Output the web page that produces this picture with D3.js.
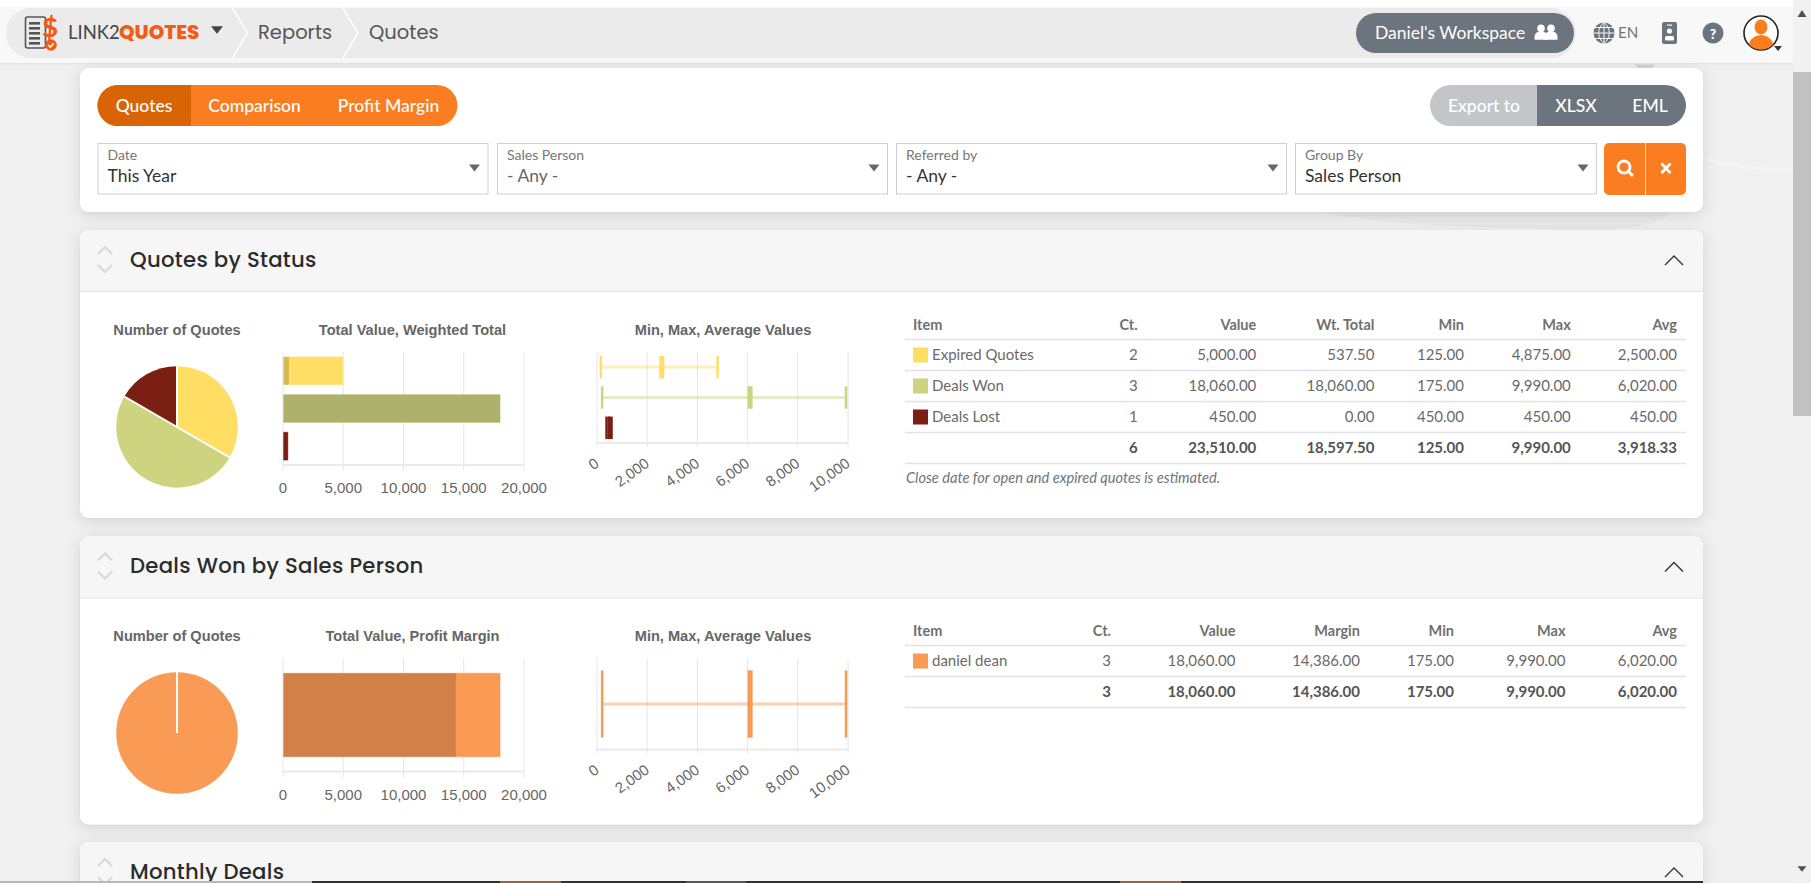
<!DOCTYPE html>
<html>
<head>
<meta charset="utf-8">
<title>Quotes report</title>
<script src="https://cdn.jsdelivr.net/npm/d3@7"></script>
<style>
  html, body { margin: 0; padding: 0; overflow: hidden; background: #f0f0f0; }
  svg { display: block; }
  text { font-family: Lato, sans-serif; dominant-baseline: central; }
  .ui { font-family: Poppins, Inter, "Open Sans", sans-serif; }
  .chart-title { font-family: "Liberation Sans", Arial, sans-serif; font-weight: 700; font-size: 14.6px; fill: #666; text-anchor: middle; }
  .axis text { font-family: "Liberation Sans", Arial, sans-serif; font-size: 15px; fill: #666; dominant-baseline: auto; }
  .axis line { stroke: #e6e6e6; }
  .axis .domain { display: none; }
</style>
</head>
<body>
<div id="chart"></div>
<script>
// report data
const statusItems = ["Expired Quotes", "Deals Won", "Deals Lost"];
const statusColors = ["#ffde63", "#ced380", "#7a1f12"];
const statusCounts = [2, 3, 1];
const statusValues = [5000, 18060, 450];
const statusWeighted = [537.5, 18060, 0];
const statusMin = [125, 175, 450];
const statusMax = [4875, 9990, 450];
const statusAvg = [2500, 6020, 450];
const statusTotals = [6, 23510, 18597.5, 125, 9990, 3918.33];

const personItems = ["daniel dean"];
const personColors = ["#f99a55"];
const personCounts = [3];
const personValues = [18060];
const personMargin = [14386];
const personMin = [175];
const personMax = [9990];
const personAvg = [6020];
const personTotals = [3, 18060, 14386, 175, 9990, 6020];

const valueTicks = [0, 5000, 10000, 15000, 20000];
const rangeTicks = [0, 2000, 4000, 6000, 8000, 10000];
const statusHeaders = ["Item", "Ct.", "Value", "Wt. Total", "Min", "Max", "Avg"];
const personHeaders = ["Item", "Ct.", "Value", "Margin", "Min", "Max", "Avg"];

const width = 1811;
const height = 883;
const money = d3.format(",.2f");
const comma = d3.format(",");

const svg = d3.select("#chart").append("svg").attr("width", width).attr("height", height);

const defs = svg.append("defs");
const shadow = defs.append("filter").attr("id", "card-shadow")
  .attr("x", "-5%").attr("y", "-10%").attr("width", "110%").attr("height", "125%");
shadow.append("feDropShadow").attr("dx", 0).attr("dy", 3).attr("stdDeviation", 7)
  .attr("flood-color", "#000").attr("flood-opacity", 0.13);

function label(parent, x, y, str, size, fill, opts = {}) {
  return parent.append("text")
    .attr("x", x).attr("y", y)
    .attr("class", opts.cls || null)
    .attr("text-anchor", opts.anchor || "start")
    .style("font-size", size + "px")
    .style("font-weight", opts.weight || 400)
    .style("font-style", opts.italic ? "italic" : "normal")
    .style("letter-spacing", opts.spacing || null)
    .attr("fill", fill)
    .text(str);
}

function triangle(parent, cx, cy, w, fill) {
  const h = w * 0.62;
  parent.append("path")
    .attr("d", `M${cx - w / 2},${cy - h / 2}H${cx + w / 2}L${cx},${cy + h / 2}Z`)
    .attr("fill", fill);
}

// faint swirl of the page background
svg.append("path")
  .attr("d", "M1703,158C1730,166 1760,170 1793,170")
  .attr("fill", "none").attr("stroke", "#f5f5f5").attr("stroke-width", 2.5);
svg.append("path")
  .attr("d", "M1320,212C1380,224 1470,229 1600,229C1640,229 1662,222 1672,212Z")
  .attr("fill", "#e9e9e9");
svg.append("path").attr("d", "M1634,64H1656L1650,70H1640Z").attr("fill", "#d4d4d4");

/* ---------- top bar ---------- */
const nav = svg.append("g");
nav.append("rect").attr("width", width).attr("height", 64).attr("fill", "#f8f8f8");
nav.append("rect").attr("width", width).attr("height", 7).attr("fill", "#fff");
nav.append("rect").attr("y", 63).attr("width", width).attr("height", 1.5).attr("fill", "#e4e4e4");
nav.append("rect").attr("x", 6).attr("y", 8).attr("width", 1570).attr("height", 50).attr("rx", 25).attr("fill", "#ebebeb");

[232.5, 343].forEach((x) => {
  nav.append("path")
    .attr("d", `M${x},8L${x + 15},33L${x},58`)
    .attr("fill", "none").attr("stroke", "#fff").attr("stroke-width", 1.5);
});

// logo
const logo = nav.append("g");
logo.append("rect").attr("x", 25.5).attr("y", 17).attr("width", 20).attr("height", 31).attr("rx", 2)
  .attr("fill", "none").attr("stroke", "#555").attr("stroke-width", 1.6);
d3.range(5).forEach((i) => {
  logo.append("rect").attr("x", 29).attr("y", 22 + i * 5).attr("width", 11).attr("height", 2.6).attr("fill", "#555");
});
label(logo, 50, 26, "$", 27, "#f45b16", { weight: 900, anchor: "middle" });
logo.append("circle").attr("cx", 51).attr("cy", 45).attr("r", 5.8).attr("fill", "#f45b16");
logo.append("path").attr("d", "M48.3,45l2,2.2l3.2,-3.8").attr("fill", "none").attr("stroke", "#fff").attr("stroke-width", 1.5);

label(nav, 68, 32, "LINK2", 18.5, "#444");
label(nav, 119, 32, "QUOTES", 19.8, "#f45b16", { cls: "ui", weight: 800 });
triangle(nav, 217, 30, 12, "#444");
label(nav, 258, 32, "Reports", 19.5, "#555", { cls: "ui" });
label(nav, 369, 32, "Quotes", 19.5, "#555", { cls: "ui" });

nav.append("rect").attr("x", 1356).attr("y", 13).attr("width", 218).attr("height", 40).attr("rx", 20).attr("fill", "#6c757d");
label(nav, 1375, 32, "Daniel's Workspace", 17.5, "#fff");

function person(parent, cx, cy, s, fill) {
  parent.append("circle").attr("cx", cx).attr("cy", cy - s * 0.42).attr("r", s * 0.42).attr("fill", fill);
  parent.append("path")
    .attr("d", `M${cx - s * 0.72},${cy + s * 0.85}v-${s * 0.35}a${s * 0.72},${s * 0.6} 0 0 1 ${s * 1.44},0v${s * 0.35}Z`)
    .attr("fill", fill);
}
person(nav, 1551, 32, 9, "#fff");
person(nav, 1541, 32, 9, "#fff");

// globe
nav.append("circle").attr("cx", 1604).attr("cy", 33).attr("r", 10.5).attr("fill", "#6c757d");
nav.append("path").attr("d", "M1593.5,33H1614.5M1595,27.5H1613M1595,38.5H1613M1604,22.5V43.5M1604,22.5C1597,28 1597,38 1604,43.5M1604,22.5C1611,28 1611,38 1604,43.5")
  .attr("fill", "none").attr("stroke", "#f8f8f8").attr("stroke-width", 1);
label(nav, 1618, 32, "EN", 15, "#6c757d");

// contact card
nav.append("rect").attr("x", 1662).attr("y", 22).attr("width", 15).attr("height", 22).attr("rx", 2).attr("fill", "#6c757d");
nav.append("circle").attr("cx", 1669.5).attr("cy", 31).attr("r", 2.6).attr("fill", "#fff");
nav.append("rect").attr("x", 1665).attr("y", 36).attr("width", 9).attr("height", 4.5).attr("rx", 1.5).attr("fill", "#fff");
nav.append("rect").attr("x", 1667).attr("y", 24.5).attr("width", 5).attr("height", 1.2).attr("fill", "#fff");

nav.append("circle").attr("cx", 1713).attr("cy", 33).attr("r", 10.5).attr("fill", "#6c757d");
label(nav, 1713, 33, "?", 14, "#fff", { anchor: "middle", weight: 900 });

// avatar
defs.append("clipPath").attr("id", "avatar-clip").append("circle").attr("cx", 1761).attr("cy", 33).attr("r", 16.5);
nav.append("circle").attr("cx", 1761).attr("cy", 33).attr("r", 17).attr("fill", "#fff").attr("stroke", "#222").attr("stroke-width", 1.6);
const avatar = nav.append("g").attr("clip-path", "url(#avatar-clip)");
avatar.append("ellipse").attr("cx", 1761).attr("cy", 27).attr("rx", 6.5).attr("ry", 7.5).attr("fill", "#fa7e1e");
avatar.append("ellipse").attr("cx", 1761).attr("cy", 47).attr("rx", 12.5).attr("ry", 12).attr("fill", "#fa7e1e");
triangle(nav, 1778, 48.5, 8, "#333");

/* ---------- scrollbar ---------- */
const scroll = svg.append("g");
scroll.append("rect").attr("x", 1793).attr("width", 18).attr("height", height).attr("fill", "#f1f1f1");
scroll.append("rect").attr("x", 1793).attr("y", 72).attr("width", 18).attr("height", 344).attr("fill", "#c1c1c1");
scroll.append("path").attr("d", "M1797.5,17H1806.5L1802,10Z").attr("fill", "#505050");
triangle(scroll, 1802, 869, 9, "#505050");

/* ---------- filter card ---------- */
function card(y, h) {
  return svg.append("rect").attr("x", 80).attr("y", y).attr("width", 1623).attr("height", h)
    .attr("rx", 9).attr("fill", "#fff").attr("filter", "url(#card-shadow)");
}
card(68, 144);
const filters = svg.append("g");

defs.append("clipPath").attr("id", "tabs-clip").append("rect")
  .attr("x", 97.5).attr("y", 85).attr("width", 360).attr("height", 41).attr("rx", 20.5);
const tabs = filters.append("g").attr("clip-path", "url(#tabs-clip)");
tabs.append("rect").attr("x", 97).attr("y", 85).attr("width", 361).attr("height", 41).attr("fill", "#fb7d21");
tabs.append("rect").attr("x", 97).attr("y", 85).attr("width", 94).attr("height", 41).attr("fill", "#d96406");
[["Quotes", 144], ["Comparison", 254.5], ["Profit Margin", 388.5]].forEach(([t, x]) => {
  label(filters, x, 105, t, 17.5, "#fff", { anchor: "middle", weight: 500 });
});

defs.append("clipPath").attr("id", "export-clip").append("rect")
  .attr("x", 1430).attr("y", 85).attr("width", 256).attr("height", 41).attr("rx", 20.5);
const exportBtn = filters.append("g").attr("clip-path", "url(#export-clip)");
exportBtn.append("rect").attr("x", 1430).attr("y", 85).attr("width", 107).attr("height", 41).attr("fill", "#c3c6c9");
exportBtn.append("rect").attr("x", 1537).attr("y", 85).attr("width", 149).attr("height", 41).attr("fill", "#6c757d");
[["Export to", 1484], ["XLSX", 1576], ["EML", 1650]].forEach(([t, x]) => {
  label(filters, x, 105, t, 17.5, "#fff", { anchor: "middle", weight: 500 });
});

const selectX = [97.5, 497, 896, 1295];
const selectW = [390, 390, 390, 301];
const selectLabels = ["Date", "Sales Person", "Referred by", "Group By"];
const selectValues = ["This Year", "- Any -", "- Any -", "Sales Person"];
const selectFill = ["#333", "#666", "#333", "#333"];
selectX.forEach((x, i) => {
  filters.append("rect").attr("x", x + 0.5).attr("y", 143.5).attr("width", selectW[i]).attr("height", 50.5)
    .attr("fill", "#fff").attr("stroke", "#ccd0d6");
  label(filters, x + 10, 154.5, selectLabels[i], 14, "#777");
  label(filters, x + 10, 175, selectValues[i], 17.5, selectFill[i]);
  triangle(filters, x + selectW[i] - 13, 168, 11, "#666");
});

filters.append("rect").attr("x", 1604).attr("y", 143).attr("width", 82).attr("height", 52).attr("rx", 5).attr("fill", "#fb7d21");
filters.append("line").attr("x1", 1645.5).attr("x2", 1645.5).attr("y1", 143).attr("y2", 195).attr("stroke", "#ffd9b8");
filters.append("circle").attr("cx", 1624).attr("cy", 167).attr("r", 6).attr("fill", "none").attr("stroke", "#fff").attr("stroke-width", 2.8);
filters.append("path").attr("d", "M1628.5,171.5L1633,176").attr("stroke", "#fff").attr("stroke-width", 3);
filters.append("path").attr("d", "M1661.5,163.5L1670.5,173M1670.5,163.5L1661.5,173").attr("stroke", "#fff").attr("stroke-width", 2.8);

/* ---------- report sections ---------- */
function sectionFrame(top, h, title) {
  card(top, h);
  const g = svg.append("g").attr("transform", `translate(0,${top})`);
  g.append("path")
    .attr("d", `M80,61V9a9,9 0 0 1 9,-9H1694a9,9 0 0 1 9,9V61Z`)
    .attr("fill", "#f6f6f6").attr("stroke", "none");
  g.append("line").attr("x1", 80).attr("x2", 1703).attr("y1", 61.5).attr("y2", 61.5).attr("stroke", "#e4e4e4");
  g.append("path").attr("d", "M98,24L105,17L112,24M98,35L105,42L112,35")
    .attr("fill", "none").attr("stroke", "#d8d8d8").attr("stroke-width", 2);
  g.append("path").attr("d", "M1665,35L1674,26L1683,35")
    .attr("fill", "none").attr("stroke", "#333").attr("stroke-width", 1.4);
  label(g, 130, 29, title, 21.2, "#2b2b2b", { cls: "ui", weight: 450, spacing: "0.3px" });
  return g;
}

function chartTitle(g, x, y, str) {
  g.append("text").attr("class", "chart-title").attr("x", x).attr("y", y).text(str);
}

function drawPie(g, counts, colors, cy) {
  const cx = 177;
  const pie = d3.pie().sort(null)(counts);
  const radius = 60.8;
  const arc = d3.arc().innerRadius(0).outerRadius(radius);
  const pieG = g.append("g").attr("transform", `translate(${cx},${cy})`);
  pieG.selectAll("path").data(pie).join("path")
    .attr("d", arc)
    .attr("fill", (d, i) => colors[i]);
  // white gaps along the slice edges, also for a single full slice
  pieG.selectAll("line").data(pie).join("line")
    .attr("x2", (d) => radius * Math.sin(d.startAngle))
    .attr("y2", (d) => -radius * Math.cos(d.startAngle))
    .attr("stroke", "#fff").attr("stroke-width", 2);
}

function drawValueBars(g, items, colors, values, overlay, top) {
  const x = d3.scaleLinear().domain([0, 20000]).range([282.5, 523.5]);
  const y = d3.scaleBand().domain(items).range([top, top + 113]).paddingInner(0.26).paddingOuter(0.13);

  g.append("g").attr("class", "axis").attr("transform", `translate(0,${top})`)
    .call(d3.axisBottom(x).tickValues(valueTicks).tickFormat(comma).tickSize(119).tickPadding(11.5));
  g.append("line").attr("x1", x(0)).attr("x2", x(20000)).attr("y1", top + 113).attr("y2", top + 113)
    .attr("stroke", "#eaeaea").attr("stroke-width", 2);

  g.selectAll(null).data(items).join("rect")
    .attr("x", x(0) + 1).attr("y", (d) => y(d))
    .attr("width", (d, i) => x(values[i]) - x(0) - 1).attr("height", y.bandwidth())
    .attr("fill", (d, i) => colors[i])
    .attr("stroke", (d, i) => colors[i]).attr("stroke-opacity", 0.4);
  g.selectAll(null).data(items).join("rect")
    .attr("x", x(0) + 1).attr("y", (d) => y(d))
    .attr("width", (d, i) => Math.max(0, x(overlay[i]) - x(0) - 1)).attr("height", y.bandwidth())
    .attr("fill", "#000").attr("fill-opacity", 0.16);
}

function drawRangeBars(g, items, colors, mins, maxs, avgs, top) {
  const x = d3.scaleLinear().domain([0, 10000]).range([596.5, 847.5]);
  const y = d3.scaleBand().domain(items).range([top, top + 91]).paddingInner(0.26).paddingOuter(0.13);

  const axis = g.append("g").attr("class", "axis").attr("transform", `translate(0,${top})`)
    .call(d3.axisBottom(x).tickValues(rangeTicks).tickFormat(comma).tickSize(95));
  axis.selectAll("text")
    .attr("text-anchor", "end")
    .attr("y", 0).attr("dy", 0)
    .attr("transform", "translate(3,113.5) rotate(-36)");
  g.append("line").attr("x1", x(0)).attr("x2", x(10000)).attr("y1", top + 91).attr("y2", top + 91)
    .attr("stroke", "#eaeaea").attr("stroke-width", 2);

  items.forEach((item, i) => {
    const row = g.append("g");
    const by = y(item);
    const bh = y.bandwidth();
    row.append("rect").attr("x", x(mins[i])).attr("y", by + bh / 2 - 1.5)
      .attr("width", x(maxs[i]) - x(mins[i])).attr("height", 3)
      .attr("fill", colors[i]).attr("fill-opacity", 0.45);
    row.append("rect").attr("x", x(mins[i])).attr("y", by).attr("width", 2.5).attr("height", bh).attr("fill", colors[i]);
    row.append("rect").attr("x", x(maxs[i]) - 2.5).attr("y", by).attr("width", 2.5).attr("height", bh).attr("fill", colors[i]);
    row.append("rect").attr("x", x(avgs[i])).attr("y", by).attr("width", 5).attr("height", bh).attr("fill", colors[i]);
  });
}

function drawTable(g, headers, colRight, items, colors, rows, totals, top) {
  const rowH = 31;
  const left = 905;
  const right = 1686;
  headers.forEach((h, c) => {
    const isItem = c === 0;
    label(g, isItem ? 913 : colRight[c - 1], top - 1, h, 14.5, "#707070", { anchor: isItem ? "start" : "end", weight: 700 });
  });
  const rule = (y) => g.append("line").attr("x1", left).attr("x2", right).attr("y1", y).attr("y2", y)
    .attr("stroke", "#e2e3e8").attr("stroke-width", 1.5);
  rule(top + 14.5);
  items.forEach((item, i) => {
    const cy = top + 30 + i * rowH;
    g.append("rect").attr("x", 913).attr("y", cy - 7.5).attr("width", 15).attr("height", 15).attr("fill", colors[i]);
    label(g, 932, cy - 1, item, 15, "#6a6a6a");
    rows.forEach((col, c) => {
      label(g, colRight[c], cy - 1, c === 0 ? col[i] : money(col[i]), 15, "#6a6a6a", { anchor: "end" });
    });
    rule(cy + 15.5);
  });
  const ty = top + 30 + items.length * rowH;
  totals.forEach((v, c) => {
    label(g, colRight[c], ty - 1, c === 0 ? v : money(v), 15, "#555", { anchor: "end", weight: 700 });
  });
  rule(ty + 15.5);
  return ty;
}

// Quotes by Status
sectionFrame(230, 288, "Quotes by Status");
const statusG = svg.append("g");
chartTitle(statusG, 177, 330, "Number of Quotes");
chartTitle(statusG, 412.5, 330, "Total Value, Weighted Total");
chartTitle(statusG, 723, 330, "Min, Max, Average Values");
drawPie(statusG, statusCounts, statusColors, 427);
drawValueBars(statusG, statusItems, statusColors, statusValues, statusWeighted, 352);
drawRangeBars(statusG, statusItems, statusColors, statusMin, statusMax, statusAvg, 352);
drawTable(statusG, statusHeaders, [1137.7, 1256.3, 1374.4, 1464, 1570.8, 1677],
  statusItems, statusColors,
  [statusCounts, statusValues, statusWeighted, statusMin, statusMax, statusAvg], statusTotals, 325);
label(statusG, 906, 477, "Close date for open and expired quotes is estimated.", 14.6, "#6c757d", { italic: true });

// Deals Won by Sales Person
sectionFrame(536.5, 288, "Deals Won by Sales Person");
const personG = svg.append("g");
chartTitle(personG, 177, 636, "Number of Quotes");
chartTitle(personG, 412.5, 636, "Total Value, Profit Margin");
chartTitle(personG, 723, 636, "Min, Max, Average Values");
drawPie(personG, personCounts, personColors, 733);
drawValueBars(personG, personItems, personColors, personValues, personMargin, 658.5);
drawRangeBars(personG, personItems, personColors, personMin, personMax, personAvg, 658.5);
drawTable(personG, personHeaders, [1111, 1235.4, 1360, 1454, 1565.5, 1677],
  personItems, personColors,
  [personCounts, personValues, personMargin, personMin, personMax, personAvg], personTotals, 631);

// Monthly Deals, cut off by the window
sectionFrame(842, 120, "Monthly Deals");

// strip along the bottom edge
const strip = svg.append("g");
strip.append("rect").attr("x", 0).attr("y", 881).attr("width", 312).attr("height", 2).attr("fill", "#b8b8b8");
strip.append("rect").attr("x", 312).attr("y", 881).attr("width", 1391).attr("height", 2).attr("fill", "#243444");
strip.append("rect").attr("x", 500).attr("y", 881).attr("width", 61).attr("height", 2).attr("fill", "#a8602a");
strip.append("rect").attr("x", 686).attr("y", 881).attr("width", 60).attr("height", 2).attr("fill", "#4a5a66");
strip.append("rect").attr("x", 1120).attr("y", 881).attr("width", 61).attr("height", 2).attr("fill", "#a8602a");
</script>
</body>
</html>
